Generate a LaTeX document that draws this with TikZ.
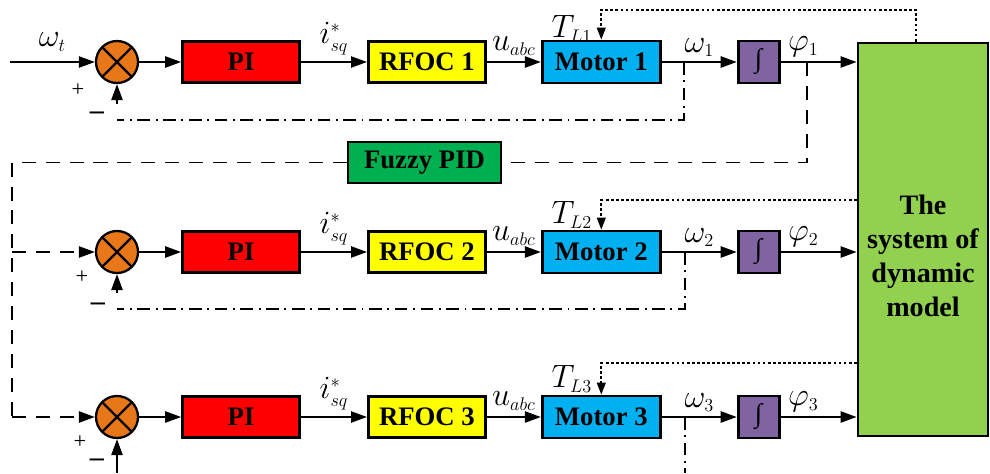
\RequirePackage{fix-cm}
\documentclass[tikz,border=0pt]{standalone}
\usepackage{fontspec}
\setmainfont{Liberation Serif}
\DeclareMathSizes{23}{23}{13}{10}
\usetikzlibrary{arrows.meta, positioning, calc}
\definecolor{sumOrange}{HTML}{E8771A}
\definecolor{piRed}{HTML}{FF0000}
\definecolor{rfocYellow}{HTML}{FFFF00}
\definecolor{motorBlue}{HTML}{00B0F0}
\definecolor{intPurple}{HTML}{8064A2}
\definecolor{fuzzyGreen}{HTML}{00B050}
\definecolor{dynGreen}{HTML}{92D050}
\tikzset{
  arrowK/.style={-{Triangle[length=4mm, width=2.8mm]}, line width=1.3pt},
  arrowDot/.style={-{Triangle[length=3mm, width=2.2mm]}, line width=1.2pt,
                   dash pattern=on 2pt off 1.6pt},
  lineDash/.style={line width=1.3pt, dash pattern=on 10pt off 7pt},
  lineDashDot/.style={line width=1.3pt, dash pattern=on 9pt off 4pt on 1.3pt off 4pt},
  boxK/.style={rectangle, draw, line width=2pt, inner sep=0pt,
               font=\fontsize{19}{22}\selectfont\bfseries,
               minimum width=2.925cm, minimum height=1.025cm},
  boxPI/.style={boxK, fill=piRed},
  boxRfoc/.style={boxK, fill=rfocYellow},
  boxMotor/.style={boxK, fill=motorBlue, minimum width=2.95cm, minimum height=1.05cm},
  boxInt/.style={boxK, fill=intPurple, minimum width=1.025cm, minimum height=1.05cm,
                 font=\fontsize{19}{22}\selectfont\itshape},
  boxFuzzy/.style={boxK, fill=fuzzyGreen, minimum width=3.825cm},
  boxDyn/.style={boxK, fill=dynGreen, minimum width=3.25cm, minimum height=9.825cm},
  sumNode/.style={circle, draw, line width=1.6pt, fill=sumOrange,
                  minimum size=1.05cm, inner sep=0pt,
                  path picture={\draw[line width=1.6pt]
                    (path picture bounding box.north west) -- (path picture bounding box.south east)
                    (path picture bounding box.north east) -- (path picture bounding box.south west);}},
  lbl/.style={font=\fontsize{23}{26}\selectfont, inner sep=1pt},
  lblS/.style={font=\fontsize{16}{18}\selectfont, inner sep=0pt},
  lblM/.style={font=\fontsize{20}{22}\selectfont\bfseries, inner sep=0pt},
}
\begin{document}
\begin{tikzpicture}[x=0.025cm, y=-0.025cm]
  \useasboundingbox (0,0) rectangle (990,473);
  % blocks
  \node[boxDyn] (dyn) at (923,239.5) {};
  \node[font=\fontsize{20}{24}\selectfont\bfseries, align=center] (dynText) at (923,256)
    {The\\system of\\dynamic\\model};
  \node[boxFuzzy] (fuzzy) at (424.5,162.5) {Fuzzy PID};

  \node[sumNode] (sum1) at (117,62) {};
  \node[boxPI, right=1.05cm of sum1] (pi1) {PI};
  \node[boxRfoc, right=1.65cm of pi1] (rfoc1) {RFOC 1};
  \node[boxMotor, right=1.35cm of rfoc1] (motor1) {Motor 1};
  \node[boxInt, right=1.875cm of motor1] (int1) {∫};

  \node[sumNode] (sum2) at (117,252) {};
  \node[boxPI, right=1.05cm of sum2] (pi2) {PI};
  \node[boxRfoc, right=1.65cm of pi2] (rfoc2) {RFOC 2};
  \node[boxMotor, right=1.35cm of rfoc2] (motor2) {Motor 2};
  \node[boxInt, right=1.875cm of motor2] (int2) {∫};

  \node[sumNode] (sum3) at (117,417) {};
  \node[boxPI, right=1.05cm of sum3] (pi3) {PI};
  \node[boxRfoc, right=1.65cm of pi3] (rfoc3) {RFOC 3};
  \node[boxMotor, right=1.35cm of rfoc3] (motor3) {Motor 3};
  \node[boxInt, right=1.875cm of motor3] (int3) {∫};

  % signs
  \node[lblS] (plus1) at (78,90) {+};
  \node[lblM] (minus1) at (97,116) {–};
  \node[lblS] (plus2) at (82,277) {+};
  \node[lblM] (minus2) at (98,307) {–};
  \node[lblS] (plus3) at (80,442) {+};
  \node[lblM] (minus3) at (97,463) {–};

  % forward paths
  \coordinate (in1) at (10,62);
  \draw[arrowK] (in1) -- node[lbl, above=6pt] {$\omega_t$} (sum1);
  \draw[arrowK] (sum1) -- (pi1);
  \draw[arrowK] (pi1) -- node[lbl, above=3pt] {$i_{sq}^{*}$} (rfoc1);
  \draw[arrowK] (rfoc1) -- node[lbl, above=3pt] {$u_{abc}$} (motor1);
  \draw[arrowK] (motor1) -- node[lbl, above=2pt] {$\omega_1$} (int1);
  \draw[arrowK] (int1) -- node[lbl, above=2pt, pos=0.3] {$\varphi_1$} (int1 -| dyn.west);

  \draw[arrowK] (sum2) -- (pi2);
  \draw[arrowK] (pi2) -- node[lbl, above=3pt] {$i_{sq}^{*}$} (rfoc2);
  \draw[arrowK] (rfoc2) -- node[lbl, above=3pt] {$u_{abc}$} (motor2);
  \draw[arrowK] (motor2) -- node[lbl, above=2pt] {$\omega_2$} (int2);
  \draw[arrowK] (int2) -- node[lbl, above=2pt, pos=0.3] {$\varphi_2$} (int2 -| dyn.west);

  \draw[arrowK] (sum3) -- (pi3);
  \draw[arrowK] (pi3) -- node[lbl, above=3pt] {$i_{sq}^{*}$} (rfoc3);
  \draw[arrowK] (rfoc3) -- node[lbl, above=3pt] {$u_{abc}$} (motor3);
  \draw[arrowK] (motor3) -- node[lbl, above=2pt] {$\omega_3$} (int3);
  \draw[arrowK] (int3) -- node[lbl, above=2pt, pos=0.3] {$\varphi_3$} (int3 -| dyn.west);

  % speed feedback
  \coordinate (w1) at (684,62);
  \coordinate (fb1) at (117,120);
  \coordinate (up1) at (117,104);
  \draw[lineDashDot] (w1) |- (fb1);
  \draw[arrowK] (up1) -- (sum1);

  \coordinate (w2) at (685,252);
  \coordinate (fb2) at (117,309);
  \coordinate (up2) at (117,293);
  \draw[lineDashDot] (w2) |- (fb2);
  \draw[arrowK] (up2) -- (sum2);

  \coordinate (w3) at (685,417);
  \coordinate (fb3) at (685,473);
  \coordinate (up3) at (117,473);
  \draw[lineDashDot] (w3) -- (fb3);
  \draw[arrowK] (up3) -- (sum3);

  % position loop through fuzzy PID
  \coordinate (p1) at (807,62);
  \coordinate (lc2) at (12,252);
  \coordinate (lc3) at (12,417);
  \draw[lineDash] (p1) |- (fuzzy.east);
  \draw[lineDash] (fuzzy.west) -| (lc3);
  \draw[lineDash, arrowK] (lc2) -- (sum2);
  \draw[lineDash, arrowK] (lc3) -- (sum3);

  % load torques
  \draw[arrowDot] ([xshift=-0.18cm]dyn.north) |- (motor1.north |- 0,10)
    -- node[lbl, left=5pt, yshift=-3pt] {$T_{L1}$} (motor1.north);
  \draw[arrowDot] (dyn.west |- 0,200) -| node[lbl, left=5pt, pos=0.75] {$T_{L2}$} (motor2.north);
  \draw[arrowDot] (dyn.west |- 0,363) -| node[lbl, left=5pt, pos=0.75] {$T_{L3}$} (motor3.north);
\end{tikzpicture}
\end{document}
